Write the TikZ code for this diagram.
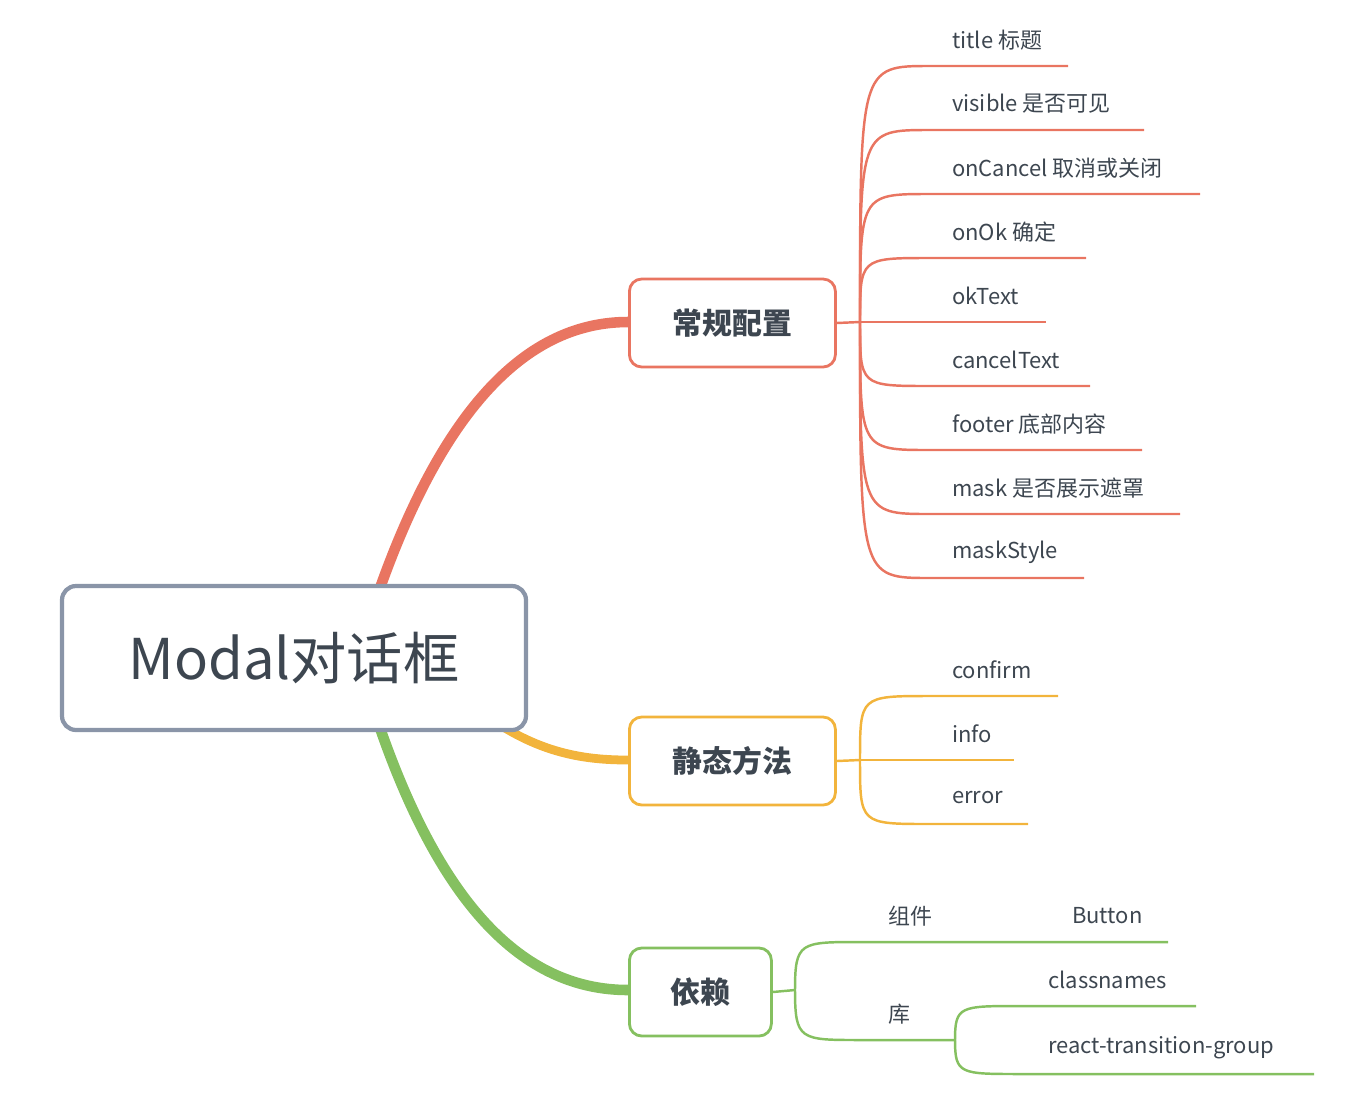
\documentclass[tikz,border=0pt]{standalone}
\usepackage{fontspec}
\setmainfont{Noto Sans CJK SC}
\usetikzlibrary{positioning}
\definecolor{cRed}{HTML}{E97561}
\definecolor{cOrange}{HTML}{F2B43C}
\definecolor{cGreen}{HTML}{85C060}
\definecolor{cGray}{HTML}{8A95A8}
\definecolor{cText}{HTML}{3D4650}
\begin{document}
\begin{tikzpicture}[x=0.02cm,y=-0.02cm,
    branch/.style={draw=#1, line width=1.6pt, rounded corners=7pt, fill=white, text=cText,
      font=\fontsize{17}{20}\selectfont\bfseries, minimum height=88*0.02cm, anchor=west},
    leaf/.style={text=cText, font=\fontsize{12.5}{15}\selectfont, anchor=west},
    edge/.style={draw=#1, line width=1.4pt}]
    \useasboundingbox (0,0) rectangle (1354,1106);

    % Draw the main branches
    \draw[cRed, line width=6pt] (380,588) .. controls (440,420) and (520,322) .. (628,322);
    \draw[cOrange, line width=5pt] (505,728) .. controls (550,755) and (590,760) .. (628,760);
    \draw[cGreen, line width=6pt] (380,728) .. controls (440,900) and (520,990) .. (628,990);

    % Root and branch nodes
    \node[draw=cGray, line width=2.4pt, rounded corners=8pt, fill=white, text=cText,
      minimum width=464*0.02cm, minimum height=144*0.02cm,
      font=\fontsize{32}{36}\selectfont] (root) at (294,658) {Modal对话框};
    \node[branch=cRed, minimum width=206*0.02cm] (conf) at (628,323) {常规配置};
    \node[branch=cOrange, minimum width=206*0.02cm] (static) at (628,761) {静态方法};
    \node[branch=cGreen, minimum width=142*0.02cm] (deps) at (628,992) {依赖};

    % Leaves of 常规配置
    \coordinate (hubR) at (860,322);
    \draw[edge=cRed] (conf.east) -- (hubR);
    \foreach \y/\e/\t in {66/1068/title 标题, 130/1144/visible 是否可见, 194/1200/onCancel 取消或关闭,
        258/1086/onOk 确定, 322/1046/okText, 386/1090/cancelText, 450/1142/footer 底部内容,
        514/1180/mask 是否展示遮罩, 578/1084/maskStyle}{
        \draw[edge=cRed] (hubR) .. controls (860,\y) and (860,\y) .. (930,\y) -- (\e,\y);
        \node[leaf] at (946,\y-26) {\t};
    }

    % Leaves of 静态方法
    \coordinate (hubO) at (860,760);
    \draw[edge=cOrange] (static.east) -- (hubO);
    \foreach \y/\e/\t in {696/1058/confirm, 760/1014/info, 824/1028/error}{
        \draw[edge=cOrange] (hubO) .. controls (860,\y) and (860,\y) .. (930,\y) -- (\e,\y);
        \node[leaf] at (946,\y-26) {\t};
    }

    % Leaves of 依赖
    \coordinate (hubG) at (795,990);
    \coordinate (hubL) at (955,1040);
    \draw[edge=cGreen] (deps.east) -- (hubG);
    \draw[edge=cGreen] (hubG) .. controls (795,942) and (800,942) .. (860,942) -- (1168,942);
    \draw[edge=cGreen] (hubG) .. controls (795,1040) and (800,1040) .. (860,1040) -- (hubL);
    \node[leaf] at (882,916) {组件};
    \node[leaf] at (1066,916) {Button};
    \node[leaf] at (882,1014) {库};
    \draw[edge=cGreen] (hubL) .. controls (955,1006) and (960,1006) .. (1020,1006) -- (1196,1006);
    \draw[edge=cGreen] (hubL) .. controls (955,1074) and (960,1074) .. (1020,1074) -- (1314,1074);
    \node[leaf] at (1042,980) {classnames};
    \node[leaf] at (1042,1048) {react-transition-group};
\end{tikzpicture}
\end{document}
